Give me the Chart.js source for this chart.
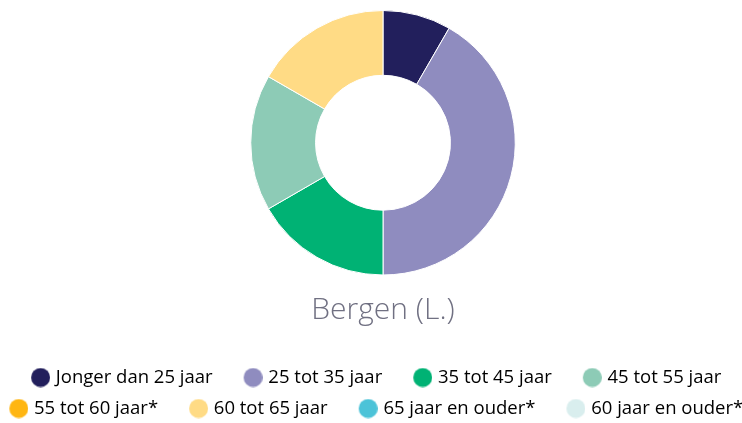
<!DOCTYPE html>
<html>
<head>
<meta charset="utf-8">
<script src="https://cdn.jsdelivr.net/npm/chart.js@4/dist/chart.umd.min.js"></script>
<style>
html,body{margin:0;padding:0;background:#fff;}
#wrap{width:742px;height:423px;position:relative;}
</style>
</head>
<body>
<div id="wrap"><canvas id="c" width="742" height="423"></canvas></div>
<script>
const categories = ["Jonger dan 25 jaar","25 tot 35 jaar","35 tot 45 jaar","45 tot 55 jaar","55 tot 60 jaar*","60 tot 65 jaar","65 jaar en ouder*","60 jaar en ouder*"];
const values = [1,5,2,2,0,2,0,0];
const colors = ["#221f5c","#8f8cbf","#00b274","#8dcbb6","#ffb612","#ffdb85","#4cc3d8","#d9eeee"];
const chartTitle = "Bergen (L.)";

const FONT = "'Open Sans', Lato, sans-serif";
const LEG_FS = 18.5;
const PW = 34, MARK_D = 19, TXT_GAP = 6;
const IMG_W = Math.round(PW + LEG_FS - 2 * TXT_GAP);
function markCanvas(color){
  const cv = document.createElement('canvas');
  cv.width = IMG_W; cv.height = MARK_D + 1;
  const g = cv.getContext('2d');
  g.fillStyle = color;
  g.beginPath();
  g.arc(IMG_W - MARK_D/2, (MARK_D+1)/2, MARK_D/2, 0, Math.PI*2);
  g.fill();
  return cv;
}
const marks = colors.map(markCanvas);

const LEGEND_CENTER = 367;
const legendTweak = {
  id: 'legendTweak',
  beforeUpdate(chart) {
    const lg = chart.legend;
    if (lg && !lg.__patched) {
      lg.__patched = true;
      const origFit = lg.fit;
      lg.fit = function () {
        const mw = this.maxWidth;
        this.maxWidth = 900;
        origFit.call(this);
        this.maxWidth = mw;
        this.width = mw;
      };
    }
  },
  afterLayout(chart) {
    const lg = chart.legend;
    if (!lg) return;
    lg.left = LEGEND_CENTER - 450;
    lg.right = LEGEND_CENTER + 450;
    lg.width = 900;
  }
};

new Chart(document.getElementById('c'), {
  type: 'doughnut',
  data: {
    labels: categories,
    datasets: [{
      data: values,
      backgroundColor: colors,
      borderColor: '#ffffff',
      borderWidth: 1,
      hoverOffset: 0
    }]
  },
  options: {
    responsive: false,
    animation: false,
    cutout: '51%',
    layout: { padding: { top: 10, left: 24, right: 0, bottom: -4.75 } },
    plugins: {
      tooltip: { enabled: false },
      title: {
        display: true,
        text: chartTitle,
        position: 'bottom',
        weight: 500,
        color: '#707082',
        font: { family: FONT, size: 30, weight: 300, lineHeight: 1.2 },
        padding: { top: 17, bottom: 27.25 }
      },
      legend: {
        display: true,
        position: 'bottom',
        weight: 3000,
        labels: {
          usePointStyle: true,
          pointStyleWidth: PW,
          padding: 12.5,
          color: '#3d3a5e',
          font: { family: FONT, size: LEG_FS },
          generateLabels(chart) {
            return categories.map((t, i) => ({
              text: t,
              fillStyle: colors[i],
              strokeStyle: colors[i],
              lineWidth: 0,
              pointStyle: marks[i],
              hidden: false,
              index: i
            }));
          }
        }
      }
    }
  },
  plugins: [legendTweak]
});
</script>
</body>
</html>
